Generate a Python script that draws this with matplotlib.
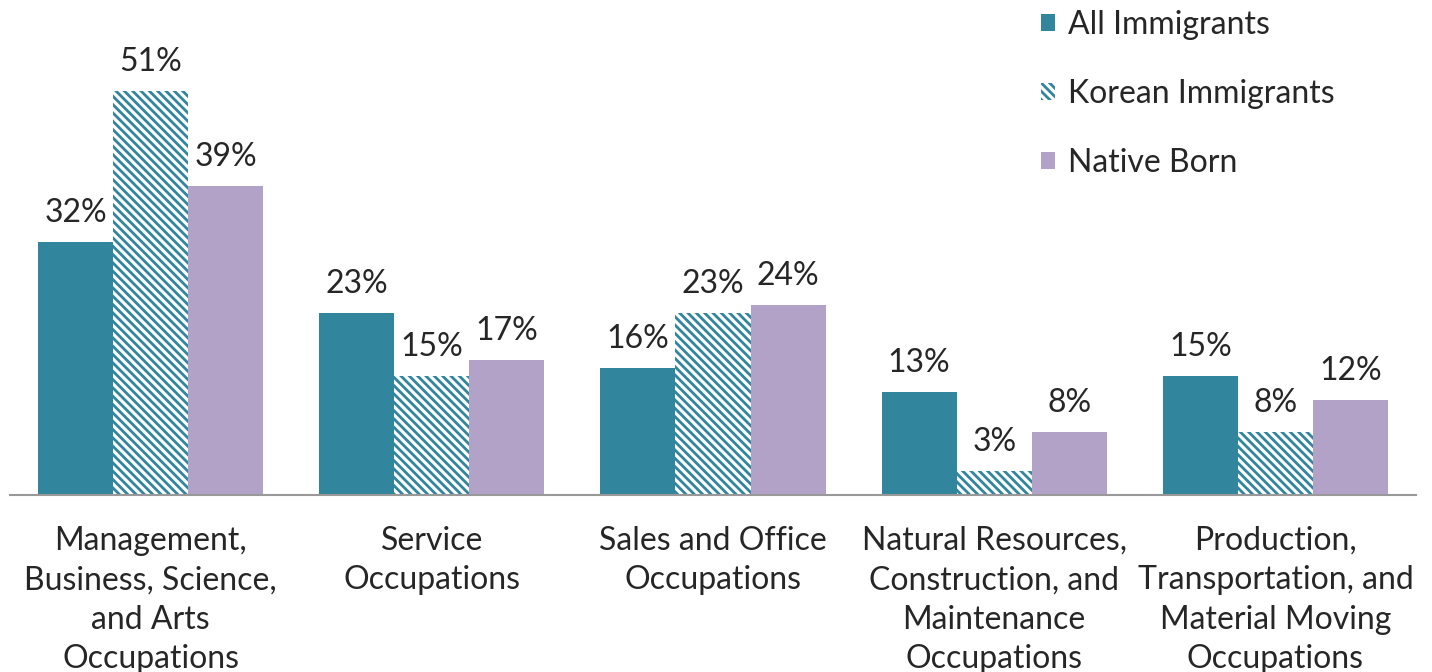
import numpy as np
import matplotlib
matplotlib.use("Agg")
import matplotlib.pyplot as plt

# Occupation shares (%)
categories = [
    "Management,\nBusiness, Science,\nand Arts\nOccupations",
    "Service\nOccupations",
    "Sales and Office\nOccupations",
    "Natural Resources,\nConstruction, and\nMaintenance\nOccupations",
    "Production,\nTransportation, and\nMaterial Moving\nOccupations",
]
all_immigrants = [32, 23, 16, 13, 15]
korean_immigrants = [51, 15, 23, 3, 8]
native_born = [39, 17, 24, 8, 12]
series_names = ["All Immigrants", "Korean Immigrants", "Native Born"]

teal = "#31859C"
purple = "#B3A2C7"
text_color = "#262626"

plt.rcParams["font.family"] = ["Lato", "DejaVu Sans"]
plt.rcParams["hatch.linewidth"] = 2.0
plt.rcParams["hatch.color"] = teal

fig = plt.figure(figsize=(14.32, 6.72), dpi=100)
ax = fig.add_axes([10 / 1432, 1 - 495 / 672, 1406 / 1432, 495 / 672])

x = np.arange(len(categories))
w = 0.267

b1 = ax.bar(x - w, all_immigrants, w, color=teal, label=series_names[0])
b2 = ax.bar(x, korean_immigrants, w, color="white", hatch="\\\\\\\\",
            edgecolor=teal, linewidth=0, label=series_names[1])
b3 = ax.bar(x + w, native_born, w, color=purple, label=series_names[2])

# value labels above every bar
for bars, vals in [(b1, all_immigrants), (b2, korean_immigrants), (b3, native_born)]:
    for rect, v in zip(bars, vals):
        ax.annotate(f"{v}%", (rect.get_x() + rect.get_width() / 2, rect.get_height()),
                    xytext=(0, 10), textcoords="offset points",
                    ha="center", va="bottom", fontsize=23, color=text_color)

ax.set_xlim(-0.5, len(categories) - 0.5)
ax.set_ylim(0, 62.5)
ax.set_xticks(x)
ax.set_xticklabels(categories, fontsize=23, color=text_color, linespacing=1.4)
ax.tick_params(axis="x", length=0, pad=22)
ax.set_yticks([])
for side in ["left", "right", "top"]:
    ax.spines[side].set_visible(False)
ax.spines["bottom"].set_color("#999999")
ax.spines["bottom"].set_linewidth(1.5)

leg = ax.legend(loc="upper left", bbox_to_anchor=(1018 / 1406, 1.006), frameon=False,
                fontsize=23, handlelength=0.45, handleheight=0.45, handletextpad=0.4,
                labelspacing=1.22, borderaxespad=0)
for t in leg.get_texts():
    t.set_color(text_color)

fig.savefig("out.png", dpi=100)
